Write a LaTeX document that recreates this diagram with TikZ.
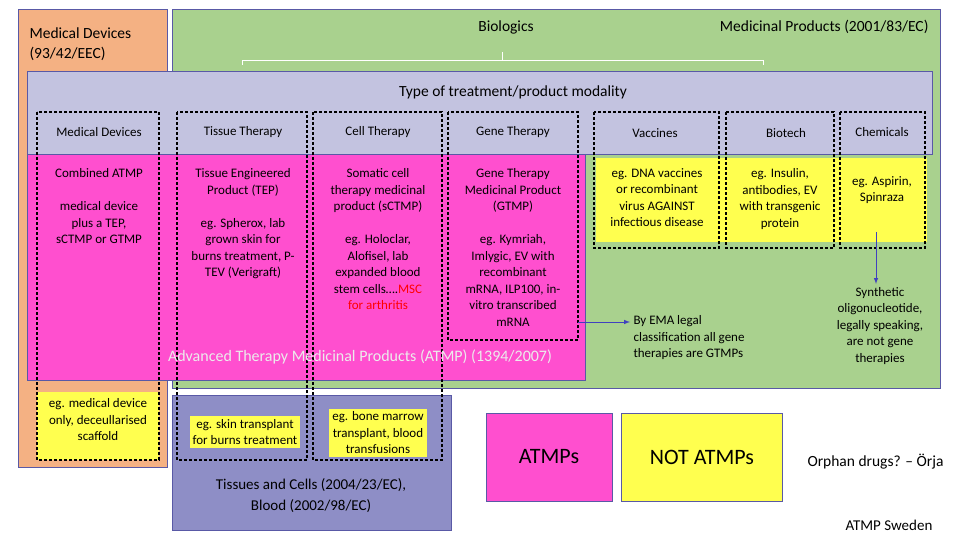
\documentclass[tikz,border=0pt]{standalone}
\usepackage{fontspec}
\setmainfont{Carlito}
\begin{document}
\begin{tikzpicture}[x=1pt,y=-1pt,
 region/.style={draw=gray!70!blue,line width=1pt},
 dbox/.style={draw=black,dash pattern=on 3pt off 2pt,line width=1.3pt},
 txt/.style={align=center,font=\fontsize{13}{16.5}\selectfont},
 hd/.style={font=\fontsize{13}{15}\selectfont},
 arr/.style={draw=blue!50!gray,line width=1pt,->,>=latex}]
\definecolor{org}{HTML}{F4B183}
\definecolor{grn}{HTML}{A9D18E}
\definecolor{lav}{HTML}{C3C3E0}
\definecolor{mag}{HTML}{FF4FCF}
\definecolor{yel}{HTML}{FFFF4F}
\definecolor{pur}{HTML}{8E8EC6}
\useasboundingbox (0,0) rectangle (960,540);
\fill[white] (0,0) rectangle (960,540);
\draw[region,fill=org] (18,10) rectangle (167,467);
\draw[region,fill=grn] (172,10) rectangle (940,388);
\draw[region,fill=lav] (27,72) rectangle (932,155);
\draw[region,fill=mag] (27,155) rectangle (585,380);
\draw[region,fill=pur] (172,395) rectangle (451,530);
\draw[fill=yel,draw=none] (596,158) rectangle (927,242);
\fill[yel] (37,392) rectangle (159,460);
\node[anchor=west,align=left,font=\fontsize{15.5}{20}\selectfont] (md) at (26,44) {Medical Devices\\(93/42/EEC)};
\node[font=\fontsize{15.5}{18}\selectfont] (bio) at (506,27) {Biologics};
\node[anchor=east,font=\fontsize{15.5}{18}\selectfont] (mp) at (932,27) {Medicinal Products (2001/83/EC)};
\draw[white,line width=0.8pt] (242,65) -- (242,60) -- (763,60) -- (763,65) (502,60) -- (502,52);
\node[font=\fontsize{15.5}{18}\selectfont] (tt) at (513,92) {Type of treatment/product modality};
% dashed columns
\draw[dbox] (37,112) rectangle (159,460);
\draw[dbox] (177,112) rectangle (307,460);
\draw[dbox] (313,112) rectangle (442,460);
\draw[dbox] (448,112) rectangle (578,340);
\draw[dbox] (594,112) rectangle (719,248);
\draw[dbox] (726,112) rectangle (834,248);
\draw[dbox] (840,112) rectangle (925,248);
\node[hd] (h1) at (99,132) {Medical Devices};
\node[hd] (h2) at (243,132) {Tissue Therapy};
\node[hd] (h3) at (378,132) {Cell Therapy};
\node[hd] (h4) at (513,132) {Gene Therapy};
\node[hd] (h5) at (655,133) {Vaccines};
\node[hd] (h6) at (786,133) {Biotech};
\node[hd] (h7) at (882,132) {Chemicals};
\node[txt,anchor=north] (c1) at (99,165) {Combined ATMP\\[16.5pt]medical device\\plus a TEP,\\sCTMP or GTMP};
\node[txt,anchor=north] (c2) at (243,165) {Tissue Engineered\\Product (TEP)\\[16.5pt]eg. Spherox, lab\\grown skin for\\burns treatment, P-\\TEV (Verigraft)};
\node[txt,anchor=north] (c3) at (378,165) {Somatic cell\\therapy medicinal\\product (sCTMP)\\[16.5pt]eg. Holoclar,\\Alofisel, lab\\expanded blood\\stem cells\dots.\textcolor{red}{MSC}\\\textcolor{red}{for arthritis}};
\node[txt,anchor=north] (c4) at (513,165) {Gene Therapy\\Medicinal Product\\(GTMP)\\[16.5pt]eg. Kymriah,\\Imlygic, EV with\\recombinant\\mRNA, ILP100, in-\\vitro transcribed\\mRNA};
\node[txt,anchor=north] (c5) at (657,165) {eg. DNA vaccines\\or recombinant\\virus AGAINST\\infectious disease};
\node[txt,anchor=north] (c6) at (780,165) {eg. Insulin,\\antibodies, EV\\with transgenic\\protein};
\node[txt,anchor=north] (c7) at (882,173) {eg. Aspirin,\\Spinraza};
\node[white!85!gray,font=\fontsize{16}{18}\selectfont] (atmp) at (360,357) {Advanced Therapy Medicinal Products (ATMP) (1394/2007)};
\node[txt,anchor=west,align=left] (ema) at (630,338) {By EMA legal\\classification all gene\\therapies are GTMPs};
\node[txt] (syn) at (880,326) {Synthetic\\oligonucleotide,\\legally speaking,\\are not gene\\therapies};
\coordinate (gtr) at (578,322);
\draw[arr] (gtr) -- (ema.west |- gtr);
\coordinate (chs) at (876,232);
\draw[arr] (chs) -- (syn.north -| chs);
\node[txt] (b1) at (98,420) {eg. medical device\\only, deceullarised\\scaffold};
\node[txt,fill=yel,inner sep=3pt] (b2) at (245,432) {eg. skin transplant\\for burns treatment};
\node[txt,fill=yel,inner sep=3pt] (b3) at (378,433) {eg. bone marrow\\transplant, blood\\transfusions};
\node[align=center,font=\fontsize{15}{21}\selectfont] (tc) at (311,496) {Tissues and Cells (2004/23/EC),\\Blood (2002/98/EC)};
\node[draw=gray!70!blue,line width=1pt,fill=mag,minimum width=126pt,minimum height=88pt,font=\fontsize{22}{26}\selectfont] (la) at (549,457) {ATMPs};
\node[draw=gray!70!blue,line width=1pt,fill=yel,minimum width=161pt,minimum height=88pt,font=\fontsize{22}{26}\selectfont] (lb) at (702,457) {NOT ATMPs};
\node[anchor=west,font=\fontsize{15.5}{18}\selectfont] (orph) at (804,462) {Orphan drugs? – Örja};
\node[font=\fontsize{15}{18}\selectfont] (sw) at (889,525) {ATMP Sweden};
\end{tikzpicture}
\end{document}
